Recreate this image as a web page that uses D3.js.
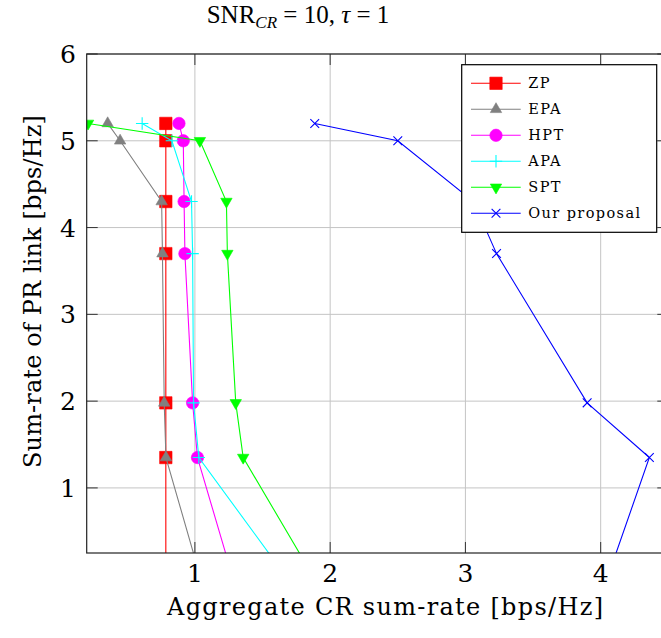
<!DOCTYPE html>
<meta charset="utf-8">
<head>
  <title>SNR CR sum-rate</title>
  <script src="https://d3js.org/d3.v7.min.js"></script>
  <style>
    body { margin: 0; background: white; }
    text { font-family: "DejaVu Serif", "Liberation Serif", serif; fill: black; }
    .title { font-family: "Liberation Serif", serif; }
    .grid line { stroke: #c4c4c4; stroke-width: 1; }
    .tick-mark { stroke: #333; stroke-width: 1; }
  </style>
</head>
<body>
<script>
  // data
  var prRates = [5.2, 5.0, 4.3, 3.7, 1.98, 1.35, 0];
  var zpX  = [0.785, 0.785, 0.785, 0.785, 0.785, 0.785, 0.785];
  var epaX = [0.355, 0.447, 0.754, 0.76, 0.773, 0.786, 1.035];
  var hptX = [0.882, 0.914, 0.92, 0.926, 0.983, 1.019, 1.274];
  var apaX = [0.61, 0.83, 0.975, 0.983, 0.99, 1.029, 1.663];
  var sptX = [0.21, 1.037, 1.233, 1.24, 1.302, 1.357, 1.867];
  var oursX = [1.886, 2.5, 3.06, 3.23, 3.9, 4.36, 4.058];
  var xTicks = [1, 2, 3, 4];
  var yTicks = [1, 2, 3, 4, 5, 6];

  var series = [
    { name: "ZP", xs: zpX, color: "#ff0000", mark: "square" },
    { name: "EPA", xs: epaX, color: "#808080", mark: "triangle" },
    { name: "HPT", xs: hptX, color: "#ff00ff", mark: "circle" },
    { name: "APA", xs: apaX, color: "#00ffff", mark: "plus" },
    { name: "SPT", xs: sptX, color: "#00ff00", mark: "triangleDown" },
    { name: "Our proposal", xs: oursX, color: "#0000ff", mark: "cross" }
  ];

  var margin = { top: 54, left: 86.7 };
  var width = 581.6, height = 499;

  var svg = d3.select("body").append("svg")
    .attr("width", 661)
    .attr("height", 638);

  var x = d3.scaleLinear().domain([0.2, 4.5]).range([margin.left, margin.left + width]);
  var y = d3.scaleLinear().domain([0.25, 6]).range([margin.top + height, margin.top]);

  svg.append("defs").append("clipPath").attr("id", "plotclip")
    .append("rect")
    .attr("x", margin.left).attr("y", margin.top)
    .attr("width", width).attr("height", height);

  // grid
  var grid = svg.append("g").attr("class", "grid");
  grid.selectAll(".gx").data(xTicks).enter().append("line")
    .attr("x1", function(d) { return x(d); }).attr("x2", function(d) { return x(d); })
    .attr("y1", y(0.25)).attr("y2", y(6));
  grid.selectAll(".gy").data(yTicks).enter().append("line")
    .attr("y1", function(d) { return y(d); }).attr("y2", function(d) { return y(d); })
    .attr("x1", x(0.2)).attr("x2", x(4.5));

  // tick marks, inside on all sides
  var tl = 11;
  xTicks.forEach(function(t) {
    svg.append("line").attr("class", "tick-mark")
      .attr("x1", x(t)).attr("x2", x(t)).attr("y1", y(0.25)).attr("y2", y(0.25) - tl);
    svg.append("line").attr("class", "tick-mark")
      .attr("x1", x(t)).attr("x2", x(t)).attr("y1", y(6)).attr("y2", y(6) + tl);
  });
  yTicks.forEach(function(t) {
    svg.append("line").attr("class", "tick-mark")
      .attr("y1", y(t)).attr("y2", y(t)).attr("x1", x(0.2)).attr("x2", x(0.2) + tl);
    svg.append("line").attr("class", "tick-mark")
      .attr("y1", y(t)).attr("y2", y(t)).attr("x1", x(4.5)).attr("x2", x(4.5) - tl);
  });

  // tick labels
  svg.selectAll(".xl").data(xTicks).enter().append("text")
    .attr("x", function(d) { return x(d); })
    .attr("y", 582)
    .attr("text-anchor", "middle")
    .style("font-size", "25px")
    .text(function(d) { return d; });
  svg.selectAll(".yl").data(yTicks).enter().append("text")
    .attr("x", 76)
    .attr("y", function(d) { return y(d) + 9; })
    .attr("text-anchor", "end")
    .style("font-size", "25px")
    .text(function(d) { return d; });

  // marks
  function markPath(kind, r) {
    var h = r * 0.866;
    if (kind == "square") return "M" + (-r) + "," + (-r) + "H" + r + "V" + r + "H" + (-r) + "Z";
    if (kind == "triangle") return "M0," + (-r) + "L" + h + "," + (r / 2) + "L" + (-h) + "," + (r / 2) + "Z";
    if (kind == "triangleDown") return "M0," + r + "L" + h + "," + (-r / 2) + "L" + (-h) + "," + (-r / 2) + "Z";
    if (kind == "plus") return "M" + (-r) + ",0H" + r + "M0," + (-r) + "V" + r;
    if (kind == "cross") { var c = r * 0.707; return "M" + (-c) + "," + (-c) + "L" + c + "," + c + "M" + (-c) + "," + c + "L" + c + "," + (-c); }
    return "";
  }
  function drawMark(g, s, px, py) {
    if (s.mark == "circle") {
      g.append("circle").attr("cx", px).attr("cy", py).attr("r", 6.2)
        .attr("fill", s.color).attr("stroke", s.color).attr("stroke-width", 0.6);
    } else {
      var filled = s.mark != "plus" && s.mark != "cross";
      g.append("path")
        .attr("transform", "translate(" + px + "," + py + ")")
        .attr("d", markPath(s.mark, s.mark == "triangle" || s.mark == "triangleDown" ? 6.6 : 6.2))
        .attr("fill", filled ? s.color : "none")
        .attr("stroke", s.color)
        .attr("stroke-width", filled ? 0.6 : 1.1);
    }
  }

  var line = d3.line()
    .x(function(d) { return x(d[0]); })
    .y(function(d) { return y(d[1]); });

  var plot = svg.append("g").attr("clip-path", "url(#plotclip)");
  series.forEach(function(s) {
    var pts = s.xs.map(function(v, i) { return [v, prRates[i]]; });
    var g = plot.append("g");
    g.append("path").datum(pts)
      .attr("d", line)
      .attr("fill", "none")
      .attr("stroke", s.color)
      .attr("stroke-width", 1.1);
    pts.forEach(function(p) { drawMark(g, s, x(p[0]), y(p[1])); });
  });

  // frame
  svg.append("rect")
    .attr("x", margin.left).attr("y", margin.top)
    .attr("width", width).attr("height", height)
    .attr("fill", "none").attr("stroke", "#222").attr("stroke-width", 1.2);

  // legend
  var lg = svg.append("g");
  lg.append("rect")
    .attr("x", 461.7).attr("y", 64.7).attr("width", 195).attr("height", 167.6)
    .attr("fill", "white").attr("stroke", "black").attr("stroke-width", 1.2);
  series.forEach(function(s, i) {
    var ly = 83.3 + i * 26;
    lg.append("line").attr("x1", 471).attr("x2", 520.7).attr("y1", ly).attr("y2", ly)
      .attr("stroke", s.color).attr("stroke-width", 1.1);
    drawMark(lg, s, 496, ly);
    lg.append("text")
      .attr("x", 528.3).attr("y", ly + 4.5)
      .style("font-size", "14.5px")
      .style("letter-spacing", "1.4px")
      .text(s.name);
  });

  // title
  var title = svg.append("text")
    .attr("class", "title")
    .attr("x", 298).attr("y", 23)
    .attr("text-anchor", "middle")
    .style("font-size", "25px");
  title.append("tspan").text("SNR");
  title.append("tspan").attr("dy", 5).style("font-size", "17px").style("font-style", "italic").text("CR");
  title.append("tspan").attr("dy", -5).text(" = 10, ");
  title.append("tspan").style("font-style", "italic").text("τ");
  title.append("tspan").text(" = 1");

  // axis labels
  svg.append("text")
    .attr("x", 385).attr("y", 615)
    .attr("text-anchor", "middle")
    .attr("textLength", 436).attr("lengthAdjust", "spacing")
    .style("font-size", "24px")
    .text("Aggregate CR sum-rate [bps/Hz]");
  svg.append("text")
    .attr("transform", "translate(41,291.5) rotate(-90)")
    .attr("text-anchor", "middle")
    .attr("textLength", 353).attr("lengthAdjust", "spacing")
    .style("font-size", "24px")
    .text("Sum-rate of PR link [bps/Hz]");
</script>
</body>
</html>
